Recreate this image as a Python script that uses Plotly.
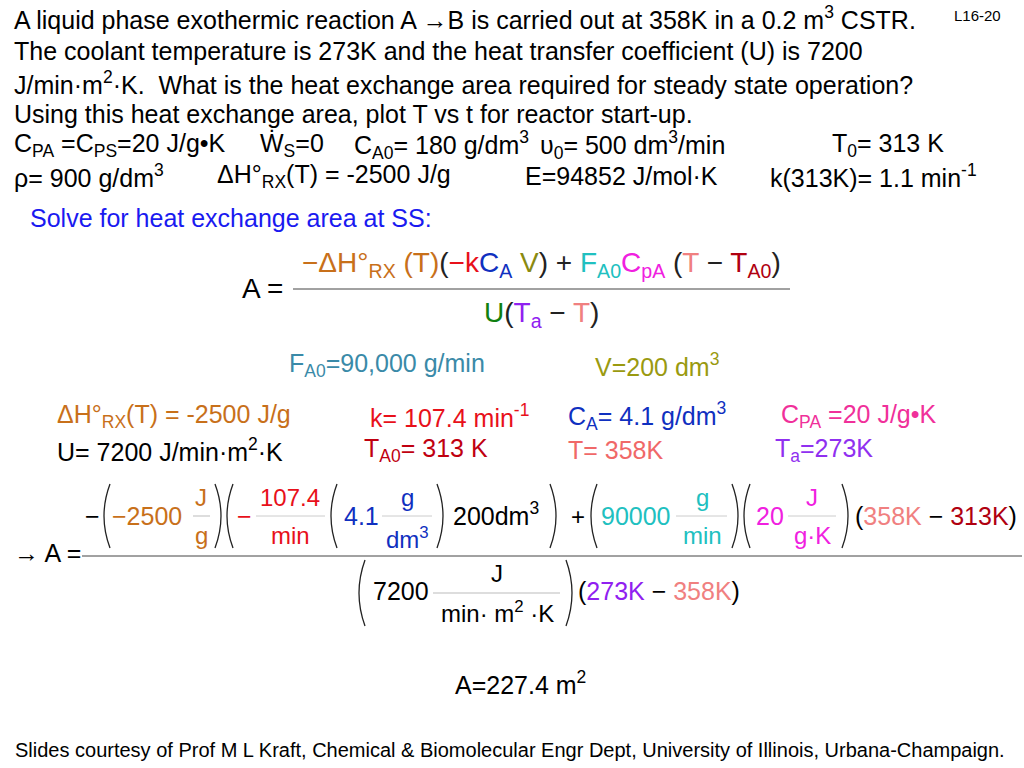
import plotly.graph_objects as go

# slide text
header_lines = [
    "A liquid phase exothermic reaction A \u2192B is carried out at 358K in a 0.2 m<sup>3</sup> CSTR.",
    "The coolant temperature is 273K and the heat transfer coefficient (U) is 7200",
    "J/min\u00b7m<sup>2</sup>\u00b7K.  What is the heat exchange area required for steady state operation?",
    "Using this heat exchange area, plot T vs t for reactor start-up.",
]
header_y = [18, 51, 83, 114]
given_row1 = [
    (12, "C<sub>PA</sub> =C<sub>PS</sub>=20 J/g\u2022K"),
    (258, "W\u0307<sub>S</sub>=0"),
    (352, "C<sub>A0</sub>= 180 g/dm<sup>3</sup>"),
    (538, "\u03c5<sub>0</sub>= 500 dm<sup>3</sup>/min"),
    (830, "T<sub>0</sub>= 313 K"),
]
given_row2 = [
    (12, "\u03c1= 900 g/dm<sup>3</sup>"),
    (215, "\u0394H\u00b0<sub>RX</sub>(T) = -2500 J/g"),
    (523, "E=94852 J/mol\u00b7K"),
    (768, "k(313K)= 1.1 min<sup>-1</sup>"),
]
value_rows = [
    (55, 416, "\u0394H\u00b0<sub>RX</sub>(T) = -2500 J/g", "#c8701a"),
    (368, 416, "k= 107.4 min<sup>-1</sup>", "#e8101a"),
    (566, 416, "C<sub>A</sub>= 4.1 g/dm<sup>3</sup>", "#1030c0"),
    (779, 416, "C<sub>PA</sub> =20 J/g\u2022K", "#f0309a"),
    (55, 450, "U= 7200 J/min\u00b7m<sup>2</sup>\u00b7K", "#000000"),
    (362, 450, "T<sub>A0</sub>= 313 K", "#c00010"),
    (566, 450, "T= 358K", "#f06868"),
    (773, 450, "T<sub>a</sub>=273K", "#9030f0"),
]
result_text = "A=227.4 m<sup>2</sup>"
footer = ("Slides courtesy of Prof M L Kraft, Chemical & Biomolecular Engr Dept, "
          "University of Illinois, Urbana-Champaign.")

ORANGE = "#c8701a"
RED = "#e8101a"
BLUE = "#1030c0"
OLIVE = "#8a8a10"
TEAL = "#20c0c0"
MAG = "#f020e0"
SALMON = "#f08080"
DRED = "#b00010"
GREEN = "#108010"
PURPLE = "#9020f0"
FONT = "Liberation Sans"
S = 1.26  # font scale

fig = go.Figure()
fig.add_trace(go.Scatter(x=[0, 1024], y=[0, 768], mode="markers",
                         marker=dict(opacity=0), hoverinfo="skip", showlegend=False))

ann = []
shapes = []


def t(x, y, text, size=20, color="#000", anchor="left", font=FONT):
    ann.append(dict(x=x, y=y, text=text, showarrow=False, xanchor=anchor,
                    yanchor="middle", font=dict(size=round(size * S), color=color, family=font)))


def hline(x0, x1, y, color="#999", w=1):
    shapes.append(dict(type="line", x0=x0, x1=x1, y0=y, y1=y,
                       line=dict(color=color, width=w)))


def paren(x, y0, y1, left=True):
    ym = (y0 + y1) / 2
    if left:
        path = f"M {x+7},{y0} Q {x-5},{ym} {x+7},{y1}"
    else:
        path = f"M {x-7},{y0} Q {x+5},{ym} {x-7},{y1}"
    shapes.append(dict(type="path", path=path, line=dict(color="#222", width=1.3)))


for yy, line in zip(header_y, header_lines):
    t(12, yy, line, 20)
t(952, 15, "L16-20", 12)
for x, s in given_row1:
    t(x, 145, s, 19.5)
for x, s in given_row2:
    t(x, 176, s, 19.5)

t(28, 218, "Solve for heat exchange area at SS:", 20, "#1a1af0")

# general formula
t(240, 288, "A =", 22)
hline(293, 790, 289, "#444")
num = (f"<span style='color:{ORANGE}'>\u2212\u0394H\u00b0<sub>RX</sub> (T)</span>"
       f"(<span style='color:{RED}'>\u2212k</span><span style='color:{BLUE}'>C<sub>A</sub></span>"
       f"<span style='color:{OLIVE}'> V</span>) + "
       f"<span style='color:{TEAL}'>F<sub>A0</sub></span><span style='color:{MAG}'>C<sub>pA</sub></span>"
       f" (<span style='color:{SALMON}'>T</span> \u2212 <span style='color:{DRED}'>T<sub>A0</sub></span>)")
t(541, 264, num, 22, "#222", "center")
den = (f"<span style='color:{GREEN}'>U</span>(<span style='color:{PURPLE}'>T<sub>a</sub></span>"
       f" \u2212 <span style='color:{SALMON}'>T</span>)")
t(541, 314, den, 22, "#222", "center")

t(287, 365, "F<sub>A0</sub>=90,000 g/min", 20, "#3a8aa8")
t(593, 365, "V=200 dm<sup>3</sup>", 20, "#9a9a10")
for x, y, s, c in value_rows:
    t(x, y, s, 20, c)

# big numeric equation
t(12, 553, "\u2192 A =", 20)
hline(82, 1022, 556, "#444")
ny0, ny1 = 484, 548
t(83, 516, "\u2212", 20)
paren(103, ny0, ny1)
t(110, 516, "\u22122500", 20, ORANGE)
t(201, 497, "J", 19, ORANGE, "center"); t(201, 535, "g", 19, ORANGE, "center")
hline(193, 210, 516, "#bbb")
paren(222, ny0, ny1, False)
paren(226, ny0, ny1)
t(235, 516, "\u2212", 20, RED)
t(290, 497, "107.4", 19, RED, "center"); t(290, 535, "min", 19, RED, "center")
hline(256, 325, 516, "#ccc")
paren(330, ny0, ny1)
t(342, 516, "4.1", 20, BLUE)
t(407, 497, "g", 19, BLUE, "center"); t(407, 538, "dm<sup>3</sup>", 19, BLUE, "center")
hline(382, 432, 516, "#ccc")
paren(444, ny0, ny1, False)
t(451, 514, "200dm<sup>3</sup>", 20)
paren(557, ny0, ny1, False)
t(578, 516, "+", 19, anchor="center")
paren(590, ny0, ny1)
t(599, 516, "90000", 20, TEAL)
t(702, 497, "g", 19, TEAL, "center"); t(702, 535, "min", 19, TEAL, "center")
hline(676, 727, 516, "#ccc")
paren(739, ny0, ny1, False)
paren(743, ny0, ny1)
t(754, 516, "20", 20, MAG)
t(812, 497, "J", 19, MAG, "center"); t(812, 535, "g\u00b7K", 19, MAG, "center")
hline(788, 836, 516, "#ccc")
paren(849, ny0, ny1, False)
t(853, 516, f"(<span style='color:{SALMON}'>358K</span> \u2212 "
            f"<span style='color:{DRED}'>313K</span>)", 20)

dy0, dy1 = 560, 626
paren(358, dy0, dy1)
t(371, 591, "7200", 20)
t(497, 573, "J", 19, anchor="center")
t(497, 612, "min\u00b7 m<sup>2</sup> \u00b7K", 19, anchor="center")
hline(433, 560, 593, "#bbb")
paren(573, dy0, dy1, False)
t(576, 591, f"(<span style='color:{PURPLE}'>273K</span> \u2212 "
            f"<span style='color:{SALMON}'>358K</span>)", 20)

t(520, 683, result_text, 20, anchor="center")
t(510, 750, footer, 16, anchor="center")

fig.update_layout(
    width=1024, height=768, margin=dict(l=0, r=0, t=0, b=0),
    paper_bgcolor="white", plot_bgcolor="white",
    xaxis=dict(range=[0, 1024], visible=False, fixedrange=True),
    yaxis=dict(range=[768, 0], visible=False, fixedrange=True),
    annotations=ann, shapes=shapes, showlegend=False,
)
fig.write_html("out.html", config={"displayModeBar": False},
               post_script="document.body.style.margin='0';")
